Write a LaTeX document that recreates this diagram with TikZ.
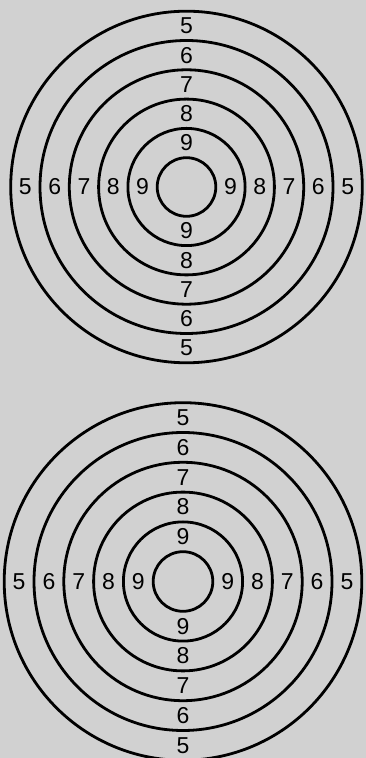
\documentclass[tikz,border=0pt]{standalone}
\usepackage{fontspec}
\setmainfont{Liberation Sans}

\begin{document}
\begin{tikzpicture}[x=1pt, y=1pt,
    ring/.style={draw=black, line width=2.8pt},
    score/.style={font=\fontsize{23}{23}\selectfont, text=black, inner sep=0pt},
]

\fill[black!18] (0,0) rectangle (366,758);
\useasboundingbox (0,0) rectangle (366,758);

% === TARGET CENTRES ===
\coordinate (topc) at (186.5,571);
\coordinate (botc) at (183,176.5);

% === TOP TARGET ===
\foreach \k in {1,...,6} {
    \draw[ring] (topc) circle[radius=\k*29.3pt];
}
\foreach \s in {5,...,9} {
    \pgfmathsetmacro\rr{(10.5-\s)*29.3}
    \node[score] (top-n\s) at ([shift={(0,\rr)}]topc) {\s};
    \node[score] (top-s\s) at ([shift={(0,-\rr)}]topc) {\s};
    \node[score] (top-w\s) at ([shift={(-\rr,0)}]topc) {\s};
    \node[score] (top-e\s) at ([shift={(\rr,0)}]topc) {\s};
}

% === BOTTOM TARGET ===
\foreach \k in {1,...,6} {
    \draw[ring] (botc) circle[radius=\k*29.8pt];
}
\foreach \s in {5,...,9} {
    \pgfmathsetmacro\rr{(10.5-\s)*29.8}
    \node[score] (bot-n\s) at ([shift={(0,\rr)}]botc) {\s};
    \node[score] (bot-s\s) at ([shift={(0,-\rr)}]botc) {\s};
    \node[score] (bot-w\s) at ([shift={(-\rr,0)}]botc) {\s};
    \node[score] (bot-e\s) at ([shift={(\rr,0)}]botc) {\s};
}

\end{tikzpicture}
\end{document}
